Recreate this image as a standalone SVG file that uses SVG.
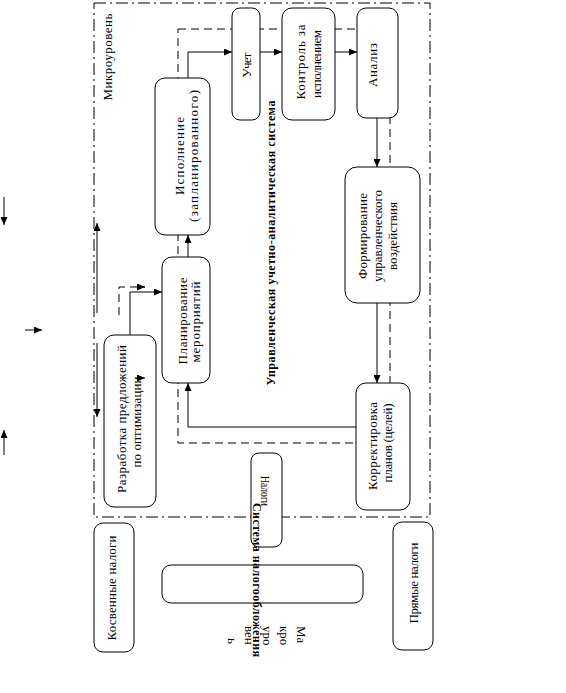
<svg xmlns="http://www.w3.org/2000/svg" width="566" height="693" viewBox="0 0 566 693">
<defs>
<marker id="ah" markerWidth="8" markerHeight="7" refX="8" refY="3.5" orient="auto" markerUnits="userSpaceOnUse"><path d="M0,0 L8,3.5 L0,7 z" fill="#000"/></marker>
<style>
.box{fill:#fff;stroke:#000;stroke-width:1}
.t{font-family:"Liberation Serif","Times New Roman",serif;font-size:13px;fill:#000}
.b{font-family:"Liberation Serif","Times New Roman",serif;font-size:12px;font-weight:bold;fill:#000}
.ln{fill:none;stroke:#000;stroke-width:1}
.dd{fill:none;stroke:#000;stroke-width:1;stroke-dasharray:12,4,2,4}
.ds{fill:none;stroke:#000;stroke-width:1;stroke-dasharray:8,5}
</style>
</defs>
<rect width="566" height="693" fill="#fff"/>
<g id="frames">
<rect class="dd" x="94" y="3" width="336" height="514"/>
<rect class="ds" x="178" y="29" width="212" height="414"/>
</g>
<g id="connectors">
<path class="ln" d="M188,78 V52 H232" marker-end="url(#ah)"/>
<path class="ln" d="M260,52 H282" marker-end="url(#ah)"/>
<path class="ln" d="M335,52 H357" marker-end="url(#ah)"/>
<path class="ln" d="M377,118 V167" marker-end="url(#ah)"/>
<path class="ln" d="M377,303 V383" marker-end="url(#ah)"/>
<path class="ln" d="M356,427 H188 V383" marker-end="url(#ah)"/>
<path class="ln" d="M188,257 V235" marker-end="url(#ah)"/>
<path class="ln" d="M130,335 V292 H162" marker-end="url(#ah)"/>
<path class="ds" d="M119,315 V287 H145"/>
<path class="ln" d="M139,287 H145" marker-end="url(#ah)"/>
<path class="ln" d="M97,313 V223" marker-end="url(#ah)"/>
<path class="ln" d="M97,343 V417" marker-end="url(#ah)"/>
<path class="ln" d="M4,197 V225" marker-end="url(#ah)"/>
<path class="ln" d="M25,330 H42" marker-end="url(#ah)"/>
<path class="ln" d="M4,455 V430" marker-end="url(#ah)"/>
</g>
<g id="mikro"><text class="t" font-size="14" transform="translate(107,57) rotate(-90)" text-anchor="middle" dy="0.35em" textLength="87" lengthAdjust="spacing">Микроуровень</text></g>
<g id="uchet"><rect class="box" x="232" y="8" width="28" height="112" rx="8"/>
<text class="t" transform="translate(246,65) rotate(-90)" text-anchor="middle" dy="0.35em" textLength="25" lengthAdjust="spacing">Учет</text></g>
<g id="kontrol"><rect class="box" x="282" y="8" width="53" height="112" rx="10"/>
<text class="t" transform="translate(300,62) rotate(-90)" text-anchor="middle" dy="0.35em" textLength="75" lengthAdjust="spacing">Контроль за</text>
<text class="t" transform="translate(316,64) rotate(-90)" text-anchor="middle" dy="0.35em" textLength="68" lengthAdjust="spacing">исполнением</text></g>
<g id="analiz"><rect class="box" x="357" y="8" width="41" height="110" rx="9"/>
<text class="t" transform="translate(372,65) rotate(-90)" text-anchor="middle" dy="0.35em" textLength="44" lengthAdjust="spacing">Анализ</text></g>
<g id="ispolnenie"><rect class="box" x="155" y="78" width="55" height="157" rx="10"/>
<text class="t" transform="translate(179,156) rotate(-90)" text-anchor="middle" dy="0.35em" textLength="78" lengthAdjust="spacing">Исполнение</text>
<text class="t" transform="translate(193,156) rotate(-90)" text-anchor="middle" dy="0.35em" textLength="132" lengthAdjust="spacing">(запланированного)</text></g>
<g id="formirovanie"><rect class="box" x="345" y="167" width="75" height="136" rx="12"/>
<text class="t" transform="translate(362,236) rotate(-90)" text-anchor="middle" dy="0.35em" textLength="86" lengthAdjust="spacing">Формирование</text>
<text class="t" transform="translate(377,236) rotate(-90)" text-anchor="middle" dy="0.35em" textLength="92" lengthAdjust="spacing">управленческого</text>
<text class="t" transform="translate(392,236) rotate(-90)" text-anchor="middle" dy="0.35em" textLength="68" lengthAdjust="spacing">воздействия</text></g>
<g id="planirovanie"><rect class="box" x="162" y="257" width="48" height="126" rx="10"/>
<text class="t" transform="translate(182,321) rotate(-90)" text-anchor="middle" dy="0.35em" textLength="87" lengthAdjust="spacing">Планирование</text>
<text class="t" transform="translate(195,322) rotate(-90)" text-anchor="middle" dy="0.35em" textLength="81" lengthAdjust="spacing">мероприятий</text></g>
<g id="razrabotka"><rect class="box" x="104" y="335" width="52" height="172" rx="10"/>
<text class="t" transform="translate(121,419) rotate(-90)" text-anchor="middle" dy="0.35em" textLength="148" lengthAdjust="spacing">Разработка предложений</text>
<text class="t" transform="translate(136,422) rotate(-90)" text-anchor="middle" dy="0.35em" textLength="91" lengthAdjust="spacing">по оптимизации</text>
<path class="ln" d="M138,378 H145" marker-end="url(#ah)"/></g>
<g id="korrektirovka"><rect class="box" x="356" y="383" width="54" height="127" rx="10"/>
<text class="t" transform="translate(372,446) rotate(-90)" text-anchor="middle" dy="0.35em" textLength="88" lengthAdjust="spacing">Корректировка</text>
<text class="t" transform="translate(387,443) rotate(-90)" text-anchor="middle" dy="0.35em" textLength="79" lengthAdjust="spacing">планов (целей)</text></g>
<g id="system-title"><text class="b" transform="translate(271,243) rotate(-90)" text-anchor="middle" dy="0.35em" textLength="285" lengthAdjust="spacing">Управленческая учетно-аналитическая система</text></g>
<g id="nalogi"><rect class="box" x="251" y="453" width="31" height="94" rx="8"/>
<text class="t" transform="translate(266,476) rotate(90)" text-anchor="start" dy="0.35em" textLength="30" lengthAdjust="spacingAndGlyphs">Налоги</text></g>
<g id="kosvennye"><rect class="box" x="94" y="523" width="40" height="129" rx="9"/>
<text class="t" transform="translate(111,588) rotate(-90)" text-anchor="middle" dy="0.35em" textLength="105" lengthAdjust="spacing">Косвенные налоги</text></g>
<g id="wide"><rect class="box" x="162" y="565" width="201" height="38" rx="9"/></g>
<g id="pryamye"><rect class="box" x="393" y="522" width="40" height="128" rx="9"/>
<text class="t" transform="translate(413,583) rotate(-90)" text-anchor="middle" dy="0.35em" textLength="81" lengthAdjust="spacing">Прямые налоги</text></g>
<g id="sistema-nalog"><text class="b" transform="translate(257,503) rotate(90)" text-anchor="start" dy="0.35em" textLength="154" lengthAdjust="spacing">Система налогообложения</text></g>
<g id="makro">
<text class="t" font-size="14" transform="translate(302,626) rotate(90)" dy="0.35em">Ма</text>
<text class="t" font-size="14" transform="translate(285,626) rotate(90)" dy="0.35em">кро</text>
<text class="t" font-size="14" transform="translate(268,626) rotate(90)" dy="0.35em">уро</text>
<text class="t" font-size="14" transform="translate(250,626) rotate(90)" dy="0.35em">вен</text>
<text class="t" font-size="14" transform="translate(233,638) rotate(90)" dy="0.35em">ь</text>
</g>
</svg>
